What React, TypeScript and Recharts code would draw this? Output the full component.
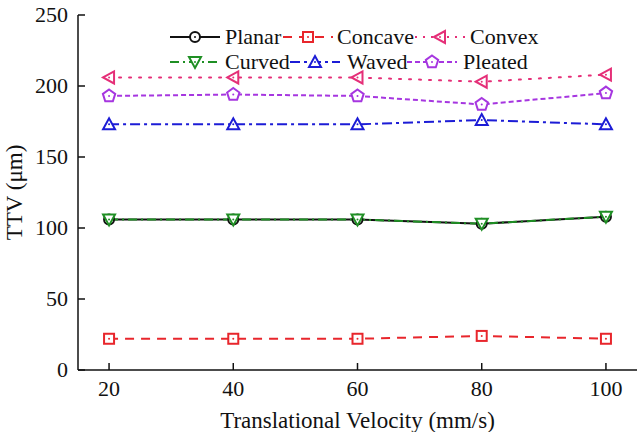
import React from "react";
import { LineChart, Line, XAxis, YAxis } from "recharts";

const velocity = [20, 40, 60, 80, 100];
const planar = [106, 106, 106, 103, 108];
const concave = [22, 22, 22, 24, 22];
const convex = [206, 206, 206, 203, 208];
const curved = [106, 106, 106, 103, 108];
const waved = [173, 173, 173, 176, 173];
const pleated = [193, 194, 193, 187, 195];

const xMajor = [20, 40, 60, 80, 100];
const xMinor = [30, 50, 70, 90];
const yMajor = [0, 50, 100, 150, 200, 250];
const yMinor = [25, 75, 125, 175, 225];

const data = velocity.map((v, i) => ({
  v,
  planar: planar[i],
  concave: concave[i],
  convex: convex[i],
  curved: curved[i],
  waved: waved[i],
  pleated: pleated[i],
}));

const FONT = '"Liberation Serif", "DejaVu Serif", serif';
const txt = { fontFamily: FONT };
const XDOM: [number, number] = [15, 105];
const YDOM: [number, number] = [0, 250];
const axisStroke = { stroke: "#111", strokeWidth: 1.5 };

type Shape = "circle" | "square" | "left" | "down" | "up" | "pentagon";

const series: {
  key: string;
  name: string;
  color: string;
  dash?: string;
  shape: Shape;
}[] = [
  { key: "planar", name: "Planar", color: "#111111", shape: "circle" },
  { key: "concave", name: "Concave", color: "#e8262c", dash: "9 7", shape: "square" },
  { key: "convex", name: "Convex", color: "#e52f78", dash: "2 8", shape: "left" },
  { key: "curved", name: "Curved", color: "#1f8f24", dash: "9 4 2 4", shape: "down" },
  { key: "waved", name: "Waved", color: "#1c1cd6", dash: "10 4 3 4", shape: "up" },
  { key: "pleated", name: "Pleated", color: "#a636e0", dash: "5 3", shape: "pentagon" },
];

function Marker({ cx, cy, shape, color }: { cx: number; cy: number; shape: Shape; color: string }) {
  const common = { fill: "#fff", stroke: color, strokeWidth: 2 };
  let el: React.ReactNode = null;
  if (shape === "circle") el = <circle cx={cx} cy={cy} r={5} {...common} />;
  else if (shape === "square") el = <rect x={cx - 5} y={cy - 5} width={10} height={10} {...common} />;
  else if (shape === "left")
    el = <polygon points={`${cx - 6},${cy} ${cx + 5},${cy - 6} ${cx + 5},${cy + 6}`} {...common} />;
  else if (shape === "down")
    el = <polygon points={`${cx - 6},${cy - 5} ${cx + 6},${cy - 5} ${cx},${cy + 6}`} {...common} />;
  else if (shape === "up")
    el = <polygon points={`${cx - 6},${cy + 5} ${cx + 6},${cy + 5} ${cx},${cy - 6}`} {...common} />;
  else {
    const pts = [0, 1, 2, 3, 4]
      .map((k) => {
        const a = -Math.PI / 2 + (k * 2 * Math.PI) / 5;
        return `${cx + 6.5 * Math.cos(a)},${cy + 6.5 * Math.sin(a)}`;
      })
      .join(" ");
    el = <polygon points={pts} {...common} />;
  }
  return (
    <g>
      {el}
      <circle cx={cx} cy={cy} r={1} fill={color} />
    </g>
  );
}

function makeDot(shape: Shape, color: string) {
  return (props: any) => {
    const { cx, cy, index } = props;
    if (cx == null || cy == null) return <g key={index} />;
    return <Marker key={index} cx={cx} cy={cy} shape={shape} color={color} />;
  };
}

// inward tick marks (Origin style), optional label outside the frame
type Side = "bottom" | "top" | "left" | "right";
function makeTick(side: Side, len: number, label: boolean) {
  return (props: any) => {
    const { x, y, payload } = props;
    const dx = side === "left" ? len : side === "right" ? -len : 0;
    const dy = side === "bottom" ? -len : side === "top" ? len : 0;
    return (
      <g>
        <line x1={x} y1={y} x2={x + dx} y2={y + dy} stroke="#111" strokeWidth={1.5} />
        {label && side === "bottom" && (
          <text x={x} y={y + 26} textAnchor="middle" style={txt} fontSize={22} fill="#111">
            {payload.value}
          </text>
        )}
        {label && side === "left" && (
          <text x={x - 10} y={y + 7} textAnchor="end" style={txt} fontSize={22} fill="#111">
            {payload.value}
          </text>
        )}
      </g>
    );
  };
}

// legend entries, two rows of three
const legendPos = [
  { x: 0, y: 0, tx: 55 },
  { x: 113, y: 0, tx: 167 },
  { x: 245, y: 0, tx: 300 },
  { x: 0, y: 25, tx: 55 },
  { x: 120, y: 25, tx: 177 },
  { x: 237, y: 25, tx: 293 },
];

function LegendBox() {
  return (
    <svg width={400} height={56} style={{ position: "absolute", left: 170, top: 26, overflow: "visible" }}>
      {series.map((s, i) => {
        const p = legendPos[i];
        const cy = p.y + 11;
        return (
          <g key={s.key}>
            <line
              x1={p.x}
              x2={p.x + 50}
              y1={cy}
              y2={cy}
              stroke={s.color}
              strokeWidth={2}
              strokeDasharray={s.dash === "2 8" ? "2 6" : s.dash}
            />
            <Marker cx={p.x + 25} cy={cy} shape={s.shape} color={s.color} />
            <text x={p.tx} y={cy + 7} style={txt} fontSize={22} fill="#111">
              {s.name}
            </text>
          </g>
        );
      })}
    </svg>
  );
}

const common = { tickSize: 0, tickMargin: 0, tickLine: false, interval: 0 as const };

export default function App() {
  return (
    <div style={{ position: "absolute", left: 0, top: 0, width: 639, height: 432, background: "#fff", fontFamily: FONT }}>
      <LineChart
        width={639}
        height={432}
        data={data}
        margin={{ top: 15, right: 2, bottom: 0, left: 0 }}
      >
        {/* minor tick axes first so they sit right on the frame */}
        <XAxis xAxisId="minB" type="number" dataKey="v" domain={XDOM} ticks={xMinor} height={0}
          axisLine={false} tick={makeTick("bottom", 4, false)} {...common} />
        <XAxis xAxisId="minT" orientation="top" type="number" dataKey="v" domain={XDOM} ticks={xMinor}
          height={0} axisLine={false} tick={makeTick("top", 4, false)} {...common} />
        <YAxis yAxisId="minL" type="number" domain={YDOM} ticks={yMinor} width={0}
          axisLine={false} tick={makeTick("left", 4, false)} {...common} />
        <YAxis yAxisId="minR" orientation="right" type="number" domain={YDOM} ticks={yMinor}
          width={0} axisLine={false} tick={makeTick("right", 4, false)} {...common} />

        <XAxis
          dataKey="v"
          type="number"
          domain={XDOM}
          ticks={xMajor}
          height={62}
          tick={makeTick("bottom", 7, true)}
          axisLine={axisStroke}
          {...common}
          label={{
            value: "Translational Velocity (mm/s)",
            position: "insideBottom",
            offset: 4,
            style: { fontFamily: FONT, fontSize: 23, fill: "#111" },
          }}
        />
        <XAxis
          xAxisId="top"
          orientation="top"
          type="number"
          dataKey="v"
          domain={XDOM}
          ticks={xMajor}
          height={0}
          tick={makeTick("top", 7, false)}
          axisLine={axisStroke}
          {...common}
        />
        <YAxis
          type="number"
          domain={YDOM}
          ticks={yMajor}
          width={78}
          tick={makeTick("left", 7, true)}
          axisLine={axisStroke}
          {...common}
          label={{
            value: "TTV (μm)",
            angle: -90,
            position: "insideLeft",
            offset: 14,
            style: { fontFamily: FONT, fontSize: 23, fill: "#111", textAnchor: "middle" },
          }}
        />
        <YAxis
          yAxisId="right"
          orientation="right"
          type="number"
          domain={YDOM}
          ticks={yMajor}
          width={0}
          tick={makeTick("right", 7, false)}
          axisLine={axisStroke}
          {...common}
        />
        {series.map((s) => (
          <Line
            key={s.key}
            dataKey={s.key}
            name={s.name}
            type="linear"
            stroke={s.color}
            strokeWidth={2}
            strokeDasharray={s.dash}
            strokeLinecap={s.dash === "2 8" ? "round" : "butt"}
            dot={makeDot(s.shape, s.color)}
            activeDot={false}
            isAnimationActive={false}
          />
        ))}
      </LineChart>
      <LegendBox />
    </div>
  );
}
